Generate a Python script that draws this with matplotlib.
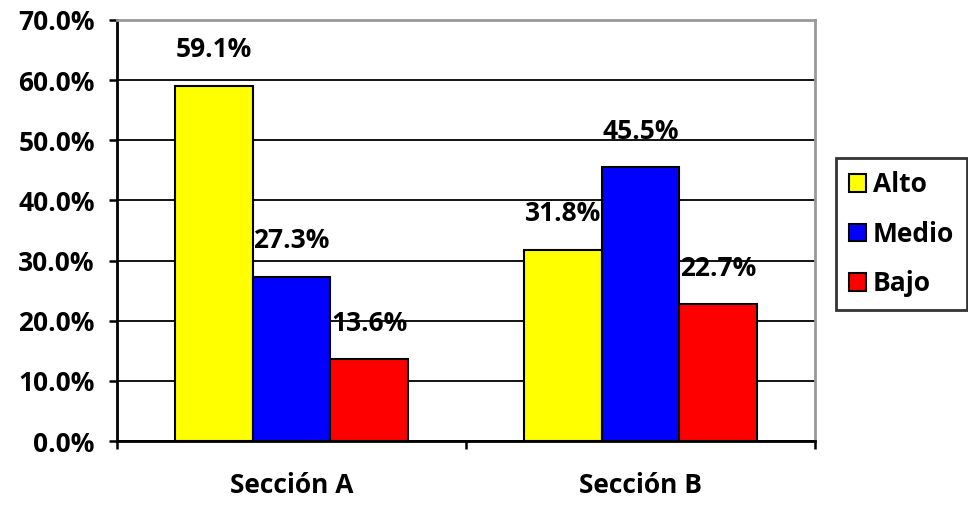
import numpy as np
import matplotlib.pyplot as plt

plt.rcParams['font.family'] = ['Open Sans', 'DejaVu Sans']
plt.rcParams['font.weight'] = 'bold'

secciones = ['Sección A', 'Sección B']
niveles = ['Alto', 'Medio', 'Bajo']
alto = [59.1, 31.8]
medio = [27.3, 45.5]
bajo = [13.6, 22.7]
colores = ['#FFFF00', '#0000FF', '#FF0000']

fs = 19

fig = plt.figure(figsize=(9.68, 5.07), dpi=100)
ax = fig.add_axes([117/968, 66/507, 698/968, 421/507])

x = np.arange(len(secciones))
w = 0.2225
for i, (vals, c, lab) in enumerate(zip([alto, medio, bajo], colores, niveles)):
    pos = x + (i - 1) * w
    ax.bar(pos, vals, w, color=c, edgecolor='black', linewidth=1.5, label=lab, zorder=3)
    for p, v in zip(pos, vals):
        ax.annotate('%.1f%%' % v, (p, v), xytext=(0, 26), textcoords='offset points',
                    ha='center', va='center', fontsize=fs, fontweight='bold', zorder=4)

ax.set_xlim(-0.5, 1.5)
ax.set_ylim(0, 70)
ax.set_yticks(np.arange(0, 71, 10))
ax.set_yticklabels(['%.1f%%' % t for t in np.arange(0, 71, 10)], fontweight='bold')
ax.yaxis.grid(True, color='black', linewidth=1.3, zorder=0)
ax.set_axisbelow(True)

ax.set_xticks([-0.5, 0.5, 1.5])
ax.set_xticklabels([])
ax.set_xticks(x, minor=True)
ax.set_xticklabels(secciones, minor=True, fontweight='bold')
ax.tick_params(axis='x', which='minor', length=0, pad=22, labelsize=fs)
ax.tick_params(axis='x', which='major', length=6, width=1.8, direction='out')
ax.tick_params(axis='y', length=6, width=1.8, pad=10, labelsize=fs)

for s in ['left', 'bottom']:
    ax.spines[s].set_linewidth(2)
    ax.spines[s].set_color('black')
for s in ['top', 'right']:
    ax.spines[s].set_linewidth(2)
    ax.spines[s].set_color('#999999')

leg = fig.legend(loc='upper left', bbox_to_anchor=(836/968, 1 - 158/507),
                 prop={'size': fs, 'weight': 'bold'}, frameon=True, fancybox=False,
                 edgecolor='black', handlelength=0.65, handleheight=0.65,
                 handletextpad=0.25, labelspacing=0.85, borderpad=0.5, borderaxespad=0)
leg.get_frame().set_linewidth(2)

fig.savefig('out.png', dpi=100)
